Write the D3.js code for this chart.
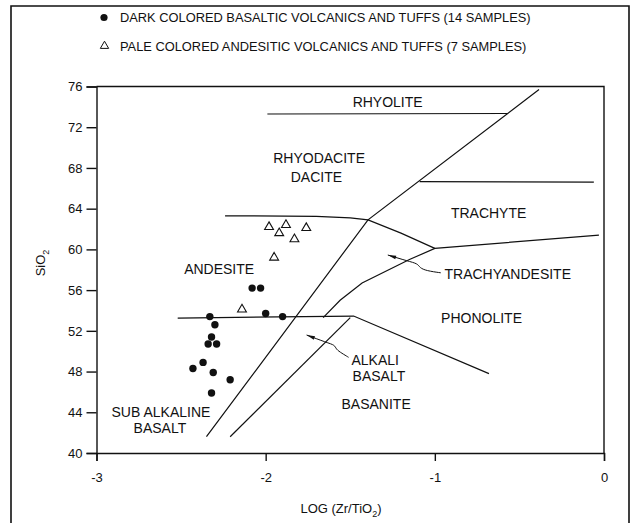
<!DOCTYPE html>
<html lang="en">

<head>
    <meta charset="UTF-8">
    <title>SiO2 vs LOG (Zr/TiO2)</title>
    <script src="https://d3js.org/d3.v7.min.js"></script>
    <style>
        body { margin: 0; background: #fff; }
        text { font-family: "Liberation Sans", Arial, Helvetica, sans-serif; fill: #111; }
    </style>
</head>

<body>
    <div class="chart"></div>

    <script>
        const w = 631;
        const h = 523;

        // axis ticks
        const xTicks = [-3, -2, -1, 0];
        const yTicks = [40, 44, 48, 52, 56, 60, 64, 68, 72, 76];

        // dark coloured basaltic samples (14)
        const darkX = [-2.08, -2.03, -2.33, -2.00, -1.90, -2.30, -2.32, -2.34, -2.29, -2.43, -2.37, -2.31, -2.21, -2.32];
        const darkY = [56.2, 56.2, 53.4, 53.7, 53.4, 52.6, 51.4, 50.7, 50.7, 48.3, 48.9, 47.9, 47.2, 45.9];

        // pale coloured andesitic samples (7)
        const paleX = [-1.98, -1.88, -1.92, -1.76, -1.83, -1.95, -2.14];
        const paleY = [62.2, 62.4, 61.6, 62.1, 61.0, 59.2, 54.1];

        // field boundaries [log(Zr/TiO2), SiO2]
        const subAlkalineLine = [[-2.35, 41.6], [-1.395, 62.9], [-0.384, 75.7]];
        const basaniteLine = [[-2.21, 41.6], [-1.50, 53.3]];
        const andesiteTop = [[-2.24, 63.3], [-1.7, 63.25], [-1.5, 63.1], [-1.395, 62.9], [-1.2, 61.6], [-1.0, 60.1]];
        const trachyandesiteBase = [[-1.66, 53.3], [-1.56, 55.0], [-1.43, 56.7], [-1.15, 59.0], [-1.0, 60.1], [-0.03, 61.4]];
        const basaltTop = [[-2.52, 53.25], [-1.48, 53.45], [-0.68, 47.8]];
        const rhyoliteBase = [[-1.99, 73.3], [-0.57, 73.35]];
        const trachyteTop = [[-1.09, 66.65], [-0.06, 66.6]];
        const boundaries = [subAlkalineLine, basaniteLine, andesiteTop, trachyandesiteBase, basaltTop, rhyoliteBase, trachyteTop];

        // field names
        const fieldNames = ["RHYOLITE", "RHYODACITE", "DACITE", "TRACHYTE", "ANDESITE", "BASANITE", "SUB ALKALINE", "BASALT"];
        const fieldX = [-1.279, -1.684, -1.700, -0.682, -2.275, -1.347, -2.619, -2.625];
        const fieldY = [74.48, 68.95, 67.14, 63.55, 58.05, 44.78, 44.06, 42.49];

        // left aligned names
        const sideNames = ["TRACHYANDESITE", "PHONOLITE", "ALKALI", "BASALT"];
        const sideX = [-0.943, -0.963, -1.493, -1.486];
        const sideY = [57.55, 53.23, 49.14, 47.56];

        // scales
        const xScale = d3.scaleLinear().domain([-3, 0]).range([96.5, 604]);
        const yScale = d3.scaleLinear().domain([40, 76]).range([453, 86.5]);

        const svg = d3.select(".chart")
            .append("svg")
            .attr("width", w)
            .attr("height", h);

        // outer frame
        svg.append("path")
            .attr("d", `M11,${h} V6 H629 V${h}`)
            .attr("fill", "none")
            .attr("stroke", "#111")
            .attr("stroke-width", 1.6);

        // legend
        svg.append("circle")
            .attr("cx", 104).attr("cy", 17.5).attr("r", 3.6)
            .attr("fill", "#111");
        svg.append("text")
            .attr("x", 120).attr("y", 17.5).attr("dy", "0.36em")
            .attr("font-size", 12.85)
            .text("DARK COLORED BASALTIC VOLCANICS AND TUFFS (14 SAMPLES)");
        svg.append("path")
            .attr("d", d3.symbol(d3.symbolTriangle, 30)())
            .attr("transform", "translate(104.5,46)")
            .attr("fill", "none").attr("stroke", "#111").attr("stroke-width", 1);
        svg.append("text")
            .attr("x", 120).attr("y", 46).attr("dy", "0.36em")
            .attr("font-size", 12.85)
            .text("PALE COLORED ANDESITIC VOLCANICS AND TUFFS (7 SAMPLES)");

        // plot frame (top and right)
        svg.append("path")
            .attr("d", `M${xScale(-3)},${yScale(76)} H${xScale(0)} V${yScale(40)}`)
            .attr("fill", "none").attr("stroke", "#111").attr("stroke-width", 1.4);

        // y axis
        const yAxis = svg.append("g")
            .attr("transform", `translate(${xScale(-3)},0)`)
            .call(d3.axisLeft(yScale).tickValues(yTicks).tickSize(10).tickPadding(4));
        yAxis.selectAll("text").attr("font-size", 13);

        // x axis
        const xAxis = svg.append("g")
            .attr("transform", `translate(0,${yScale(40)})`)
            .call(d3.axisBottom(xScale).tickValues(xTicks).tickSize(8).tickPadding(12)
                .tickFormat(d => d === 0 ? "0" : "-" + Math.abs(d)));
        xAxis.selectAll("text").attr("font-size", 13);
        svg.selectAll(".domain, .tick line").attr("stroke", "#111").attr("stroke-width", 1.4);

        // axis titles
        const xt = svg.append("text")
            .attr("x", 341).attr("y", 508).attr("dy", "0.36em")
            .attr("text-anchor", "middle").attr("font-size", 13);
        xt.append("tspan").text("LOG (Zr/TiO");
        xt.append("tspan").attr("font-size", 9).attr("dy", 4).text("2");
        xt.append("tspan").attr("dy", -4).text(")");

        const yt = svg.append("text")
            .attr("transform", "translate(40,263) rotate(-90)")
            .attr("dy", "0.36em")
            .attr("text-anchor", "middle").attr("font-size", 13);
        yt.append("tspan").text("SiO");
        yt.append("tspan").attr("font-size", 9).attr("dy", 4).text("2");

        // field boundaries
        const line = d3.line().x(d => xScale(d[0])).y(d => yScale(d[1]));
        svg.selectAll(".boundary")
            .data(boundaries)
            .join("path")
            .attr("class", "boundary")
            .attr("d", line)
            .attr("fill", "none")
            .attr("stroke", "#111")
            .attr("stroke-width", 1.2);

        // field labels
        svg.selectAll(".field")
            .data(fieldNames)
            .join("text")
            .attr("class", "field")
            .attr("x", (d, i) => xScale(fieldX[i]))
            .attr("y", (d, i) => yScale(fieldY[i]))
            .attr("dy", "0.36em")
            .attr("text-anchor", "middle")
            .attr("font-size", 14)
            .text(d => d);

        svg.selectAll(".side")
            .data(sideNames)
            .join("text")
            .attr("class", "side")
            .attr("x", (d, i) => xScale(sideX[i]))
            .attr("y", (d, i) => yScale(sideY[i]))
            .attr("dy", "0.36em")
            .attr("font-size", 14)
            .text(d => d);

        // leader arrows for trachyandesite and alkali basalt
        svg.append("defs").append("marker")
            .attr("id", "head")
            .attr("viewBox", "0 0 10 6")
            .attr("refX", 0).attr("refY", 3)
            .attr("markerWidth", 10).attr("markerHeight", 5)
            .attr("markerUnits", "userSpaceOnUse")
            .attr("orient", "auto")
            .append("path").attr("d", "M10,0.8 L0,3 L10,5.2 Z").attr("fill", "#111");

        const leaders = [
            [[-1.278, 59.45], [-1.16, 58.85], [-1.10, 58.6], [-1.09, 58.2], [-1.05, 57.9], [-0.965, 57.7]],
            [[-1.758, 51.59], [-1.64, 50.85], [-1.59, 50.6], [-1.585, 50.2], [-1.55, 49.8], [-1.51, 49.4]]
        ];
        svg.selectAll(".leader")
            .data(leaders)
            .join("path")
            .attr("class", "leader")
            .attr("d", d3.line().x(d => xScale(d[0])).y(d => yScale(d[1])).curve(d3.curveBasis))
            .attr("fill", "none")
            .attr("stroke", "#111")
            .attr("stroke-width", 1)
            .attr("marker-start", "url(#head)");

        // samples
        svg.selectAll(".dark")
            .data(darkX)
            .join("circle")
            .attr("class", "dark")
            .attr("cx", d => xScale(d))
            .attr("cy", (d, i) => yScale(darkY[i]))
            .attr("r", 3.7)
            .attr("fill", "#111");

        svg.selectAll(".pale")
            .data(paleX)
            .join("path")
            .attr("class", "pale")
            .attr("d", d3.symbol(d3.symbolTriangle, 34)())
            .attr("transform", (d, i) => `translate(${xScale(d)},${yScale(paleY[i])})`)
            .attr("fill", "#fff")
            .attr("stroke", "#111")
            .attr("stroke-width", 1.1);
    </script>
</body>

</html>
